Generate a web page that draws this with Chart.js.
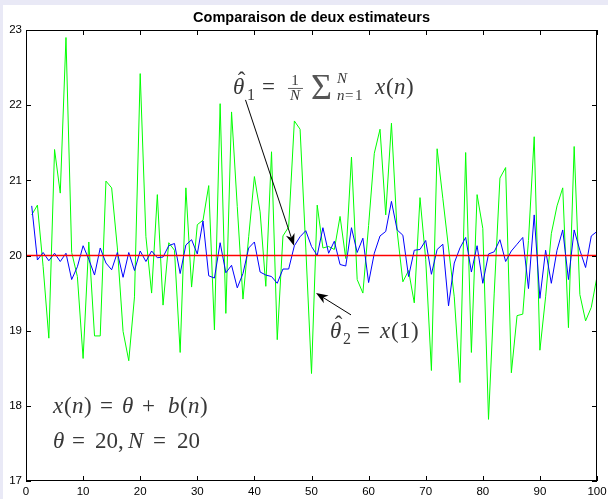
<!DOCTYPE html>
<html>
<head>
<meta charset="utf-8">
<script src="https://cdn.jsdelivr.net/npm/chart.js@4.4.1/dist/chart.umd.min.js"></script>
<style>
  body { margin: 0; background: #e9e9f6; width: 608px; height: 499px; overflow: hidden; }
  #chartCanvas { position: absolute; left: 3px; top: 5px; background: #ffffff; }
</style>
</head>
<body>
<canvas id="chartCanvas" width="605" height="494"></canvas>
<script>
//data
const sampleN = [1,2,3,4,5,6,7,8,9,10,11,12,13,14,15,16,17,18,19,20,21,22,23,24,25,26,27,28,29,30,31,32,33,34,35,36,37,38,39,40,41,42,43,44,45,46,47,48,49,50,51,52,53,54,55,56,57,58,59,60,61,62,63,64,65,66,67,68,69,70,71,72,73,74,75,76,77,78,79,80,81,82,83,84,85,86,87,88,89,90,91,92,93,94,95,96,97,98,99,100];

//theta2 = x(1), green
const theta2 = [20.54,20.67,19.85,18.90,21.41,20.83,22.90,20.04,19.72,18.63,
  20.18,18.93,18.93,20.99,20.90,20.10,18.99,18.60,19.45,22.42,
  20.25,19.50,20.81,19.34,20.17,20.07,18.71,20.90,19.58,20.41,
  20.47,20.93,19.01,22.02,19.23,21.91,20.65,19.42,20.25,21.05,
  20.58,19.59,21.38,18.88,20.26,20.38,21.79,21.68,20.10,18.43,
  20.67,20.10,20.12,20.08,20.52,19.96,21.31,19.68,19.50,20.40,
  21.36,21.68,20.54,21.76,20.32,19.65,19.80,19.37,20.77,19.95,
  18.47,21.42,20.76,20.10,19.45,18.31,21.37,18.71,20.81,20.36,
  17.82,19.50,21.03,21.17,18.44,19.20,19.22,20.20,21.58,18.74,
  19.45,20.29,20.66,20.90,19.04,21.45,19.48,19.13,19.31,19.72];

//theta1 = mean of N samples, blue
const theta1 = [20.66,19.94,20.04,19.93,20.03,19.92,20.03,19.68,19.85,20.13,
  19.95,19.74,20.10,19.90,19.81,20.04,19.71,20.04,19.80,20.06,
  19.92,20.06,19.97,19.98,20.13,20.16,19.76,20.14,20.21,20.02,
  20.46,19.73,19.70,20.17,19.77,19.87,19.57,19.76,20.10,20.18,
  19.78,19.74,19.72,19.63,19.82,19.82,20.13,20.25,20.33,20.12,
  20.00,20.37,20.03,20.19,19.88,19.86,20.37,20.04,20.23,19.64,
  20.03,20.26,20.32,20.72,20.34,20.27,19.72,20.07,20.08,20.20,
  19.75,20.08,20.15,19.33,19.90,20.10,20.24,19.78,20.13,19.63,
  20.02,20.05,20.21,19.92,20.06,20.15,20.24,19.56,20.54,19.43,
  20.07,19.63,20.07,20.34,19.68,20.34,20.07,19.84,20.26,20.32];

//true value line
const trueX = [0, 100];
const trueY = [20, 20];

//tick labels
const xTicks = [0,10,20,30,40,50,60,70,80,90,100];
const yTicks = [17,18,19,20,21,22,23];

const chartTitle = 'Comparaison de deux estimateurs';

function toPoints(xs, ys) {
  return ys.map((v, i) => ({ x: xs[i], y: v }));
}

const SANS = '"Liberation Sans", Arial, sans-serif';
const SERIF = '"Liberation Serif"';
const IT = 'italic 23px ' + SERIF;
const RM = '23px ' + SERIF;
const SIT = 'italic 15px ' + SERIF;
const SRM = '15px ' + SERIF;
const SUB = '16px ' + SERIF;

//text pieces, offsets from an anchor given in data units
const annotations = [
  { x: 36.25, y: 22.149, pieces: [
    { t: 'θ', f: IT, dx: 0 },
    { t: 'ˆ', f: RM, dx: 8.5, dy: -6, c: true },
    { t: '1', f: SUB, dx: 14, dy: 6 },
    { t: '=', f: RM, dx: 29 },
    { t: '1', f: SRM, dx: 62, dy: -9, c: true },
    { bar: true, dx: 55, w: 15, dy: -5.5 },
    { t: 'N', f: SIT, dx: 62, dy: 6.5, c: true },
    { t: 'Σ', f: '36px ' + SERIF, dx: 78, dy: 5, col: '#555' },
    { t: 'N', f: SIT, dx: 104, dy: -11 },
    { t: 'n', f: SIT, dx: 104, dy: 6 },
    { t: '=', f: SRM, dx: 112, dy: 6 },
    { t: '1', f: SRM, dx: 122, dy: 6 },
    { t: 'x', f: IT, dx: 142 },
    { t: '(', f: RM, dx: 153 },
    { t: 'n', f: IT, dx: 161 },
    { t: ')', f: RM, dx: 173 }
  ]},
  { x: 53.24, y: 18.90, pieces: [
    { t: 'θ', f: IT, dx: 0 },
    { t: 'ˆ', f: RM, dx: 8.5, dy: -6, c: true },
    { t: '2', f: SUB, dx: 13, dy: 6 },
    { t: '=', f: RM, dx: 27 },
    { t: 'x', f: IT, dx: 50 },
    { t: '(', f: RM, dx: 61 },
    { t: '1', f: RM, dx: 69 },
    { t: ')', f: RM, dx: 81 }
  ]},
  { x: 4.73, y: 17.905, pieces: [
    { t: 'x', f: IT, dx: 0 },
    { t: '(', f: RM, dx: 11 },
    { t: 'n', f: IT, dx: 19 },
    { t: ')', f: RM, dx: 31 },
    { t: '=', f: RM, dx: 47 },
    { t: 'θ', f: IT, dx: 69 },
    { t: '+', f: RM, dx: 89 },
    { t: 'b', f: IT, dx: 115 },
    { t: '(', f: RM, dx: 127 },
    { t: 'n', f: IT, dx: 135 },
    { t: ')', f: RM, dx: 147 }
  ]},
  { x: 4.73, y: 17.44, pieces: [
    { t: 'θ', f: IT, dx: 0 },
    { t: '=', f: RM, dx: 19 },
    { t: '20,', f: RM, dx: 42 },
    { t: 'N', f: IT, dx: 75 },
    { t: '=', f: RM, dx: 100 },
    { t: '20', f: RM, dx: 124 }
  ]}
];

//arrows: tail -> tip, data units
const arrows = [
  { x1: 38.44, y1: 22.07, x2: 46.94, y2: 20.13 },
  { x1: 56.92, y1: 19.21, x2: 50.79, y2: 19.50 }
];

function drawArrow(ctx, x1, y1, x2, y2) {
  const ang = Math.atan2(y2 - y1, x2 - x1);
  const ux = Math.cos(ang), uy = Math.sin(ang);
  const L = 12, W = 4.5;
  ctx.beginPath();
  ctx.moveTo(x1, y1);
  ctx.lineTo(x2 - ux * L * 0.6, y2 - uy * L * 0.6);
  ctx.stroke();
  ctx.beginPath();
  ctx.moveTo(x2, y2);
  ctx.lineTo(x2 - ux * L - uy * W, y2 - uy * L + ux * W);
  ctx.lineTo(x2 - ux * L * 0.7, y2 - uy * L * 0.7);
  ctx.lineTo(x2 - ux * L + uy * W, y2 - uy * L - ux * W);
  ctx.closePath();
  ctx.fill();
}

//title, box, inward ticks, arrows and text
const matlabLook = {
  id: 'matlabLook',
  afterDatasetsDraw(chart) {
    const ctx = chart.ctx;
    const a = chart.chartArea;
    const sx = chart.scales.x, sy = chart.scales.y;
    ctx.save();

    //title centred over the axes
    ctx.fillStyle = '#000';
    ctx.font = 'bold 14.5px ' + SANS;
    ctx.textAlign = 'center';
    ctx.textBaseline = 'alphabetic';
    ctx.fillText(chartTitle, (a.left + a.right) / 2, a.top - 8);

    ctx.strokeStyle = '#000';
    ctx.lineWidth = 1;
    ctx.beginPath();
    sx.ticks.forEach(t => {
      const px = Math.round(sx.getPixelForValue(t.value)) + 0.5;
      ctx.moveTo(px, a.bottom); ctx.lineTo(px, a.bottom - 5);
      ctx.moveTo(px, a.top); ctx.lineTo(px, a.top + 5);
    });
    sy.ticks.forEach(t => {
      const py = Math.round(sy.getPixelForValue(t.value)) + 0.5;
      ctx.moveTo(a.left, py); ctx.lineTo(a.left + 5, py);
      ctx.moveTo(a.right, py); ctx.lineTo(a.right - 5, py);
    });
    ctx.stroke();
    ctx.strokeRect(a.left + 0.5, a.top + 0.5, a.width - 1, a.height - 1);

    //arrows
    ctx.fillStyle = '#000';
    arrows.forEach(ar => {
      drawArrow(ctx, sx.getPixelForValue(ar.x1), sy.getPixelForValue(ar.y1),
        sx.getPixelForValue(ar.x2), sy.getPixelForValue(ar.y2));
    });

    //math text
    ctx.strokeStyle = '#383838';
    annotations.forEach(an => {
      const x0 = sx.getPixelForValue(an.x);
      const y0 = sy.getPixelForValue(an.y);
      an.pieces.forEach(p => {
        if (p.bar) {
          ctx.beginPath();
          ctx.lineWidth = 0.8;
          ctx.moveTo(x0 + p.dx, y0 + p.dy);
          ctx.lineTo(x0 + p.dx + p.w, y0 + p.dy);
          ctx.stroke();
          return;
        }
        ctx.fillStyle = p.col || '#383838';
        ctx.font = p.f;
        ctx.textAlign = p.c ? 'center' : 'left';
        ctx.fillText(p.t, x0 + p.dx, y0 + (p.dy || 0));
      });
    });
    ctx.restore();
  }
};

const canvasDiv = document.getElementById('chartCanvas');
var chart = new Chart(canvasDiv, {
  type: 'line',
  data: {
    datasets: [
      {
        label: 'theta',
        data: toPoints(trueX, trueY),
        borderColor: '#ff0000',
        borderWidth: 1.5,
        pointRadius: 0,
      },
      {
        label: 'theta1',
        data: toPoints(sampleN, theta1),
        borderColor: '#0000ff',
        borderWidth: 1,
        pointRadius: 0,
      },
      {
        label: 'theta2',
        data: toPoints(sampleN, theta2),
        borderColor: '#00ff00',
        borderWidth: 1,
        pointRadius: 0,
      },
    ],
  },
  options: {
    responsive: false,
    animation: false,
    devicePixelRatio: 1,
    layout: { padding: { top: 25, left: 0, right: 11, bottom: 0 } },
    elements: { line: { tension: 0 } },
    plugins: {
      legend: { display: false },
      tooltip: { enabled: false },
      title: { display: false },
    },
    scales: {
      x: {
        type: 'linear',
        min: 0,
        max: 100,
        grid: { display: false, drawTicks: false },
        border: { display: false },
        afterBuildTicks: (s) => { s.ticks = xTicks.map(v => ({ value: v })); },
        afterFit: (s) => { s.height = 18; s.paddingLeft = 0; s.paddingRight = 0; },
        ticks: {
          color: '#000',
          padding: 4,
          maxRotation: 0,
          autoSkip: false,
          font: { family: SANS, size: 11.5 },
        },
      },
      y: {
        min: 17,
        max: 23,
        grid: { display: false, drawTicks: false },
        border: { display: false },
        afterBuildTicks: (s) => { s.ticks = yTicks.map(v => ({ value: v })); },
        afterFit: (s) => { s.width = 23; s.paddingTop = 0; s.paddingBottom = 0; },
        ticks: {
          color: '#000',
          padding: 4,
          autoSkip: false,
          font: { family: SANS, size: 11.5 },
        },
      },
    },
  },
  plugins: [matlabLook],
});
</script>
</body>
</html>
